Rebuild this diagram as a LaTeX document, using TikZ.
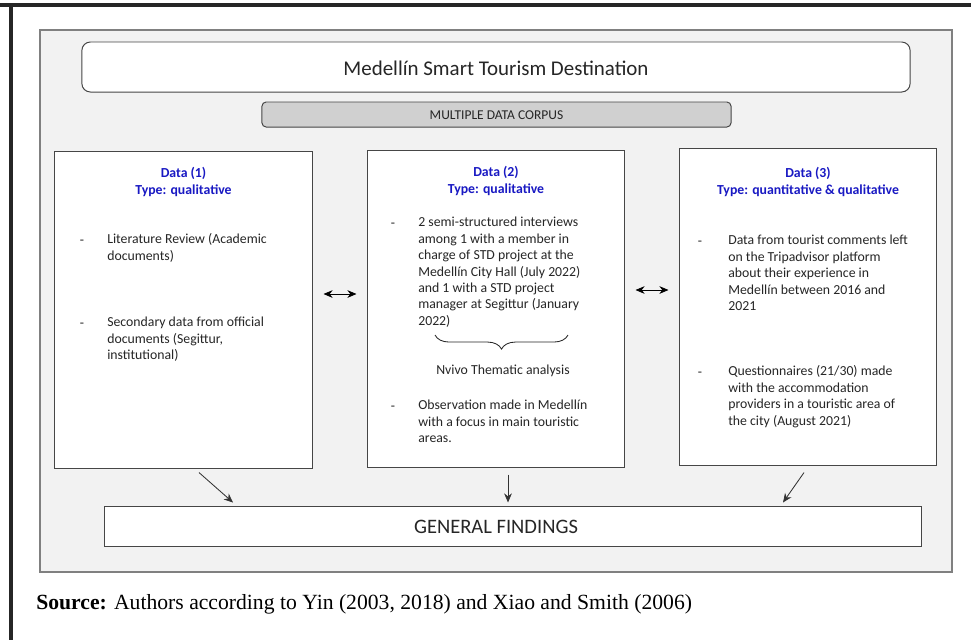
\documentclass[tikz,border=0pt]{standalone}
\usepackage{fontspec}
\setmainfont{Carlito}
\newfontfamily\srcfont{Liberation Serif}
\usetikzlibrary{arrows.meta,calc,decorations.pathreplacing}

\definecolor{datablue}{RGB}{25,25,195}
\definecolor{panelgray}{RGB}{242,242,242}
\definecolor{corpusgray}{RGB}{208,208,208}
\definecolor{edgegray}{RGB}{70,70,70}

\tikzset{
  databox/.style={draw=edgegray, fill=white, line width=0.7pt, inner sep=0pt},
  heading/.style={text=datablue, font=\fontsize{9.8}{11.7}\selectfont\bfseries, align=center},
  itemtext/.style={font=\fontsize{9.8}{11.7}\selectfont, align=left, anchor=base west, inner sep=0pt, text=black!85},
  dashmark/.style={font=\fontsize{9.8}{11.7}\selectfont, anchor=base, inner sep=0pt, text=black!85},
  link/.style={->, line width=0.6pt, draw=black!80},
}

\begin{document}
\begin{tikzpicture}[x=0.025cm, y=-0.025cm, >={Stealth[length=6.5pt,width=5.5pt]}]
  \useasboundingbox (0,0) rectangle (971,640);

  % outer frame
  \draw[line width=2.2pt, black!85] (0,5) -- (971,5);
  \draw[line width=2.2pt, black!85] (11,5) -- (11,640);

  % grey panel
  \draw[fill=panelgray, draw=gray, line width=1pt] (40,30) rectangle (952,572);

  % title and corpus
  \node[databox, rounded corners=6pt, minimum width=20.7cm, minimum height=1.25cm] (title) at (496,67) {};
  \node[text=black!85, font=\fontsize{14.9}{17}\selectfont] (titletext) at (496,68) {Medellín Smart Tourism Destination};
  \node[databox, fill=corpusgray, rounded corners=3pt, minimum width=11.725cm, minimum height=0.625cm] (corpus) at (496.5,114.5) {};
  \node[text=black!85, font=\fontsize{9.6}{11}\selectfont] (corpustext) at (496.5,115) {MULTIPLE DATA CORPUS};

  % three data boxes
  \node[databox, minimum width=6.425cm, minimum height=7.9cm] (box1) at (183.5,310) {};
  \node[databox, minimum width=6.4cm, minimum height=7.9cm] (box2) at (496,309) {};
  \node[databox, minimum width=6.4cm, minimum height=7.9cm] (box3) at (808,307) {};

  \node[heading] (head1) at (183.5,182) {Data (1)\\Type: qualitative};
  \node[heading] (head2) at (496,181) {Data (2)\\Type: qualitative};
  \node[heading] (head3) at (808,182) {Data (3)\\Type: quantitative \& qualitative};

  % box 1 items (placed by the baseline of the last line)
  \foreach \y in {244,327} \node[dashmark] at (82,\y) {-};
  \node[itemtext] (lit) at (107,260.4) {Literature Review (Academic\\documents)};
  \node[itemtext] (sec) at (107,359.8) {Secondary data from official\\documents (Segittur,\\institutional)};

  % box 2 items
  \foreach \y in {227,410} \node[dashmark] at (393,\y) {-};
  \node[itemtext] (inter) at (418,325.4) {2 semi-structured interviews\\among 1 with a member in\\charge of STD project at the\\Medellín City Hall (July 2022)\\and 1 with a STD project\\manager at Segittur (January\\2022)};
  \draw[decorate, decoration={brace, mirror, amplitude=10pt}, line width=0.6pt, black!85] (435,335) -- (568,335);
  \node[text=black!85, font=\fontsize{9.8}{11.7}\selectfont] (nvivo) at (503,371) {Nvivo Thematic analysis};
  \node[itemtext] (obs) at (418,442.8) {Observation made in Medellín\\with a focus in main touristic\\areas.};

  % box 3 items
  \foreach \y in {245,376} \node[dashmark] at (700,\y) {-};
  \node[itemtext] (trip) at (728,310.6) {Data from tourist comments left\\on the Tripadvisor platform\\about their experience in\\Medellín between 2016 and\\2021};
  \node[itemtext] (quest) at (728,425.2) {Questionnaires (21/30) made\\with the accommodation\\providers in a touristic area of\\the city (August 2021)};

  % findings
  \node[databox, minimum width=20.4cm, minimum height=1cm] (findings) at (513,526) {};
  \node[text=black!85, font=\fontsize{14.6}{17}\selectfont] (findtext) at (496,527) {GENERAL FINDINGS};

  % links between boxes
  \draw[<->, line width=0.6pt, shorten <=0.275cm, shorten >=0.275cm] (box1.east |- 0,294) -- (box2.west |- 0,294);
  \draw[<->, line width=0.6pt, shorten <=0.275cm, shorten >=0.275cm] (box2.east |- 0,290) -- (box3.west |- 0,290);

  % links to findings
  \draw[link] ($(box1.south)+(15.5,4)$) -- ($(findings.north)+(-280,-3)$);
  \draw[link] ($(box2.south)+(12,7)$) -- ($(findings.north)+(-5,-3)$);
  \draw[link] ($(box3.south)+(-4,7)$) -- ($(findings.north)+(270,-3)$);

  % source line
  \node[anchor=base west, inner sep=0pt, font=\srcfont\fontsize{15.4}{18}\selectfont] (source) at (36,609) {\textbf{Source:} Authors according to Yin (2003, 2018) and Xiao and Smith (2006)};
\end{tikzpicture}
\end{document}
